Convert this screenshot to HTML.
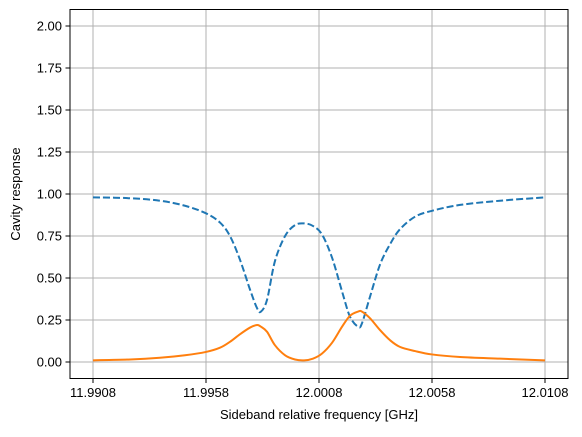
<!DOCTYPE html>
<html><head><meta charset="utf-8"><style>
body{margin:0;background:#fff}
svg text{font-family:"Liberation Sans","DejaVu Sans",sans-serif;font-size:13px;fill:#000}
</style></head><body>
<svg id="chart" width="582" height="432" viewBox="0 0 582 432" xmlns="http://www.w3.org/2000/svg">
<g id="grid"></g>
<g id="series"></g>
<rect x="70" y="9.5" width="498" height="369" fill="none" stroke="#000" stroke-width="1"/>
<g id="ticks"></g>
<text x="319" y="419" text-anchor="middle">Sideband relative frequency [GHz]</text>
<text transform="translate(20,194) rotate(-90)" text-anchor="middle">Cavity response</text>
</svg>
<script>
const freqs=[11.99080,11.99244,11.99376,11.99487,11.99580,11.99642,11.99686,11.99730,11.99775,11.99806,11.99823,11.99850,11.99885,11.99930,11.99974,12.00014,12.00053,12.00093,12.00138,12.00182,12.00217,12.00253,12.00270,12.00306,12.00350,12.00394,12.00438,12.00505,12.00580,12.00704,12.00881,12.01080];
const reflected=[0.98,0.975,0.96,0.93,0.885,0.83,0.75,0.61,0.43,0.32,0.30,0.37,0.60,0.75,0.815,0.825,0.81,0.76,0.62,0.42,0.27,0.21,0.23,0.39,0.58,0.70,0.79,0.865,0.90,0.935,0.96,0.98];
const transmitted=[0.01,0.015,0.025,0.04,0.06,0.085,0.12,0.165,0.205,0.22,0.21,0.18,0.10,0.04,0.015,0.01,0.02,0.05,0.115,0.21,0.275,0.30,0.30,0.26,0.19,0.13,0.09,0.065,0.045,0.03,0.02,0.01];
const xTicks=[11.9908,11.9958,12.0008,12.0058,12.0108];
const xTickLabels=["11.9908","11.9958","12.0008","12.0058","12.0108"];
const yTicks=[0,0.25,0.5,0.75,1,1.25,1.5,1.75,2];
const yTickLabels=["0.00","0.25","0.50","0.75","1.00","1.25","1.50","1.75","2.00"];

const X0=11.9908,PX0=93,PXPER=22600;
function xs(f){return PX0+(f-X0)*PXPER;}
function ys(v){return 362-v*168;}
const NS="http://www.w3.org/2000/svg";
function mk(tag,attrs,parent){const e=document.createElementNS(NS,tag);for(const k in attrs)e.setAttribute(k,attrs[k]);parent.appendChild(e);return e;}
const grid=document.getElementById('grid'),ticks=document.getElementById('ticks'),series=document.getElementById('series');
xTicks.forEach((t,i)=>{
  const x=xs(t);
  const g=mk('line',{x1:x,x2:x,y1:9.5,y2:378.5,stroke:'#b0b0b0','stroke-width':1},grid);
  
  
  const tk=mk('line',{x1:x,x2:x,y1:378.5,y2:383,stroke:'#000'},ticks);
  
  
  const tx=mk('text',{x:x,y:397,'text-anchor':'middle'},ticks);
  tx.textContent=xTickLabels[i];
  
  
});
yTicks.forEach((t,i)=>{
  const y=ys(t);
  const g=mk('line',{x1:70,x2:568,y1:y,y2:y,stroke:'#b0b0b0','stroke-width':1},grid);
  
  
  const tk=mk('line',{x1:65.5,x2:70,y1:y,y2:y,stroke:'#000'},ticks);
  
  
  const tx=mk('text',{x:62,y:y+4.5,'text-anchor':'end'},ticks);
  tx.textContent=yTickLabels[i];
  
  
});
function smoothPath(fs,vs){
  const p=fs.map((f,i)=>[xs(f),ys(vs[i])]);
  let d='M'+p[0][0]+','+p[0][1];
  for(let i=0;i<p.length-1;i++){
    const p0=p[Math.max(0,i-1)],p1=p[i],p2=p[i+1],p3=p[Math.min(p.length-1,i+2)];
    const c1=[p1[0]+(p2[0]-p0[0])/6,p1[1]+(p2[1]-p0[1])/6];
    const c2=[p2[0]-(p3[0]-p1[0])/6,p2[1]-(p3[1]-p1[1])/6];
    d+=' C'+c1[0]+','+c1[1]+' '+c2[0]+','+c2[1]+' '+p2[0]+','+p2[1];
  }
  return d;
}
const b=mk('path',{d:smoothPath(freqs,reflected),fill:'none',stroke:'#1f77b4','stroke-width':2,'stroke-dasharray':'7,3'},series);


const o=mk('path',{d:smoothPath(freqs,transmitted),fill:'none',stroke:'#ff7f0e','stroke-width':2},series);


</script>
</body></html>
